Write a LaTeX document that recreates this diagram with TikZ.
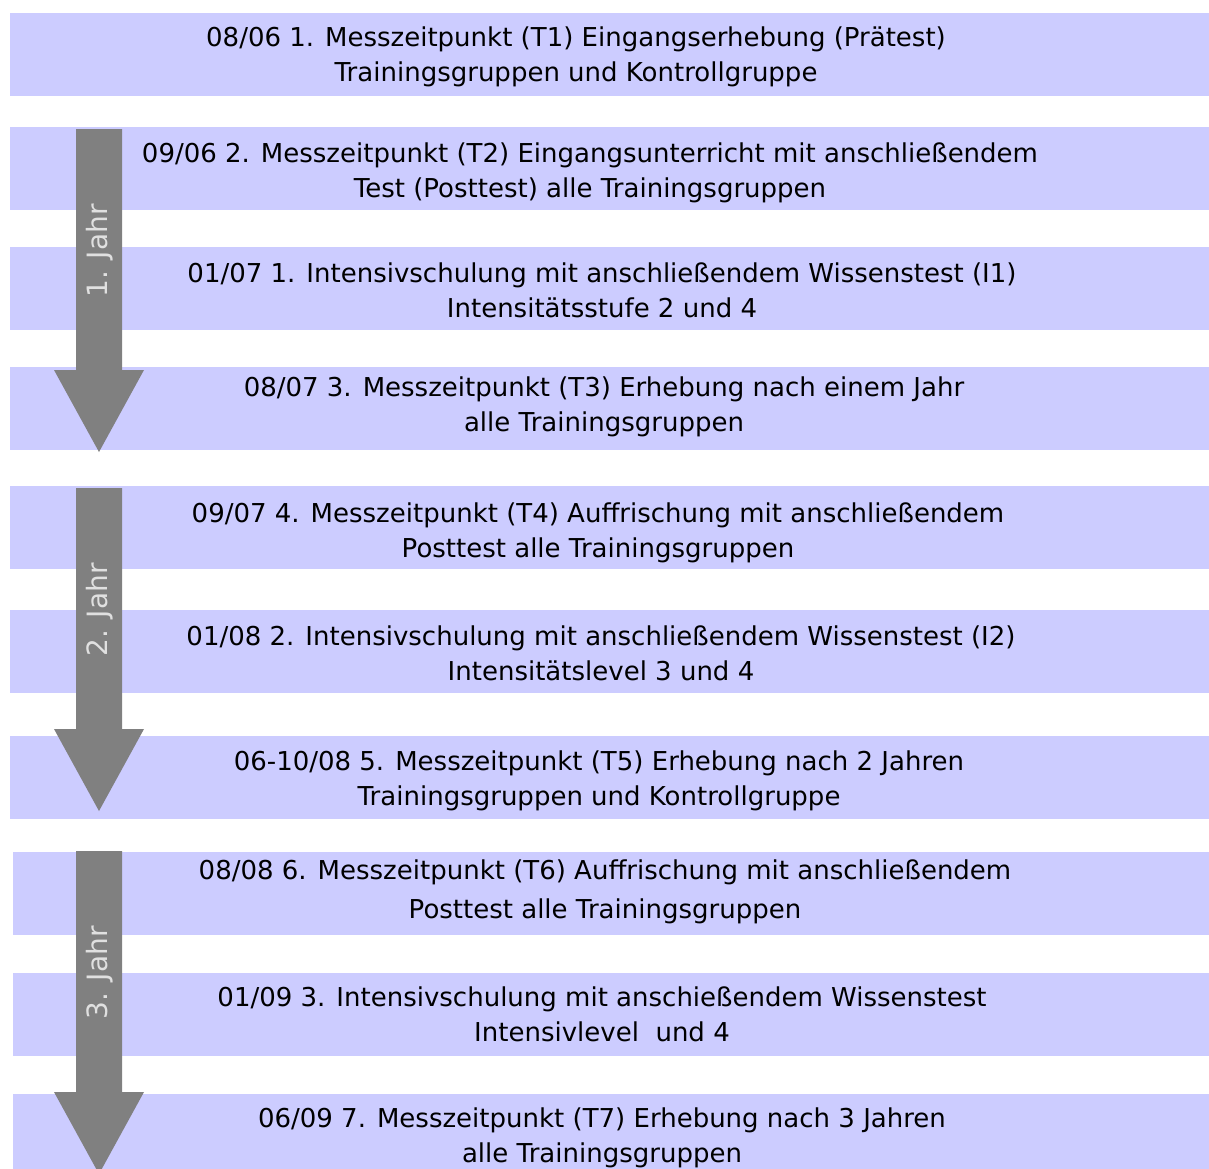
\documentclass[tikz,border=0pt]{standalone}
\usepackage{fontspec}
\setmainfont{DejaVu Sans}
\definecolor{barblue}{HTML}{CCCCFF}
\definecolor{arrowgray}{HTML}{808080}
\definecolor{labelgray}{HTML}{E0E0E0}
\begin{document}
\begin{tikzpicture}[x=1pt,y=-1pt,
  bar/.style={fill=barblue,draw=none,inner sep=0pt,minimum width=1199pt,minimum height=83pt},
  txt/.style={align=center,inner sep=0pt,text=black,font=\fontsize{26}{35}\selectfont},
  yearbox/.style={rotate=90,anchor=base,inner sep=0pt,text=labelgray,font=\fontsize{28}{30}\selectfont},
  yeararrow/.style={fill=arrowgray,draw=none}]
\useasboundingbox (0,0) rectangle (1209,1168);
\clip (0,0) rectangle (1209,1168);
% bars
\node[bar] (b1) at (609.5,54.5) {};
\node[bar] (b2) at (609.5,168.5) {};
\node[bar] (b3) at (609.5,288.5) {};
\node[bar] (b4) at (609.5,408.5) {};
\node[bar] (b5) at (609.5,527) {};
\node[bar] (b6) at (609.5,651) {};
\node[bar] (b7) at (609.5,777) {};
\node[bar,minimum width=1196pt] (b8) at (611,893.5) {};
\node[bar,minimum width=1196pt] (b9) at (611,1014.5) {};
\node[bar,minimum width=1196pt] (b10) at (611,1135.5) {};
% arrows
\fill[yeararrow] (76,129) -- (122,129) -- (122,370) -- (144,370) -- (99,452) -- (54,370) -- (76,370) -- cycle;
\fill[yeararrow] (76,488) -- (122,488) -- (122,729) -- (144,729) -- (99,811) -- (54,729) -- (76,729) -- cycle;
\fill[yeararrow] (76,851) -- (122,851) -- (122,1092) -- (144,1092) -- (99,1174) -- (54,1092) -- (76,1092) -- cycle;
\node[yearbox] (y1) at (107,251) {1. Jahr};
\node[yearbox] (y2) at (107,610) {2. Jahr};
\node[yearbox] (y3) at (107,973) {3. Jahr};
% texts
\node[txt] (t1) at (576,56.5) {\strut 08/06 1. Messzeitpunkt (T1) Eingangserhebung (Prätest)\\Trainingsgruppen und Kontrollgruppe\strut};
\node[txt] (t2) at (590,172.5) {\strut 09/06 2. Messzeitpunkt (T2) Eingangsunterricht mit anschließendem\\Test (Posttest) alle Trainingsgruppen\strut};
\node[txt] (t3) at (602,292.5) {\strut 01/07 1. Intensivschulung mit anschließendem Wissenstest (I1)\\Intensitätsstufe 2 und 4\strut};
\node[txt] (t4) at (604,406.5) {\strut 08/07 3. Messzeitpunkt (T3) Erhebung nach einem Jahr\\alle Trainingsgruppen\strut};
\node[txt] (t5) at (598,532.5) {\strut 09/07 4. Messzeitpunkt (T4) Auffrischung mit anschließendem\\Posttest alle Trainingsgruppen\strut};
\node[txt] (t6) at (601,655.5) {\strut 01/08 2. Intensivschulung mit anschließendem Wissenstest (I2)\\Intensitätslevel 3 und 4\strut};
\node[txt] (t7) at (599,780.5) {\strut 06-10/08 5. Messzeitpunkt (T5) Erhebung nach 2 Jahren\\Trainingsgruppen und Kontrollgruppe\strut};
\node[txt] (t8) at (605,891.5) {\strut 08/08 6. Messzeitpunkt (T6) Auffrischung mit anschließendem\\[4pt]Posttest alle Trainingsgruppen\strut};
\node[txt] (t9) at (602,1016.5) {\strut 01/09 3. Intensivschulung mit anschießendem Wissenstest\\Intensivlevel\ \ und 4\strut};
\node[txt] (t10) at (602,1137.5) {\strut 06/09 7. Messzeitpunkt (T7) Erhebung nach 3 Jahren\\alle Trainingsgruppen\strut};
\end{tikzpicture}
\end{document}
